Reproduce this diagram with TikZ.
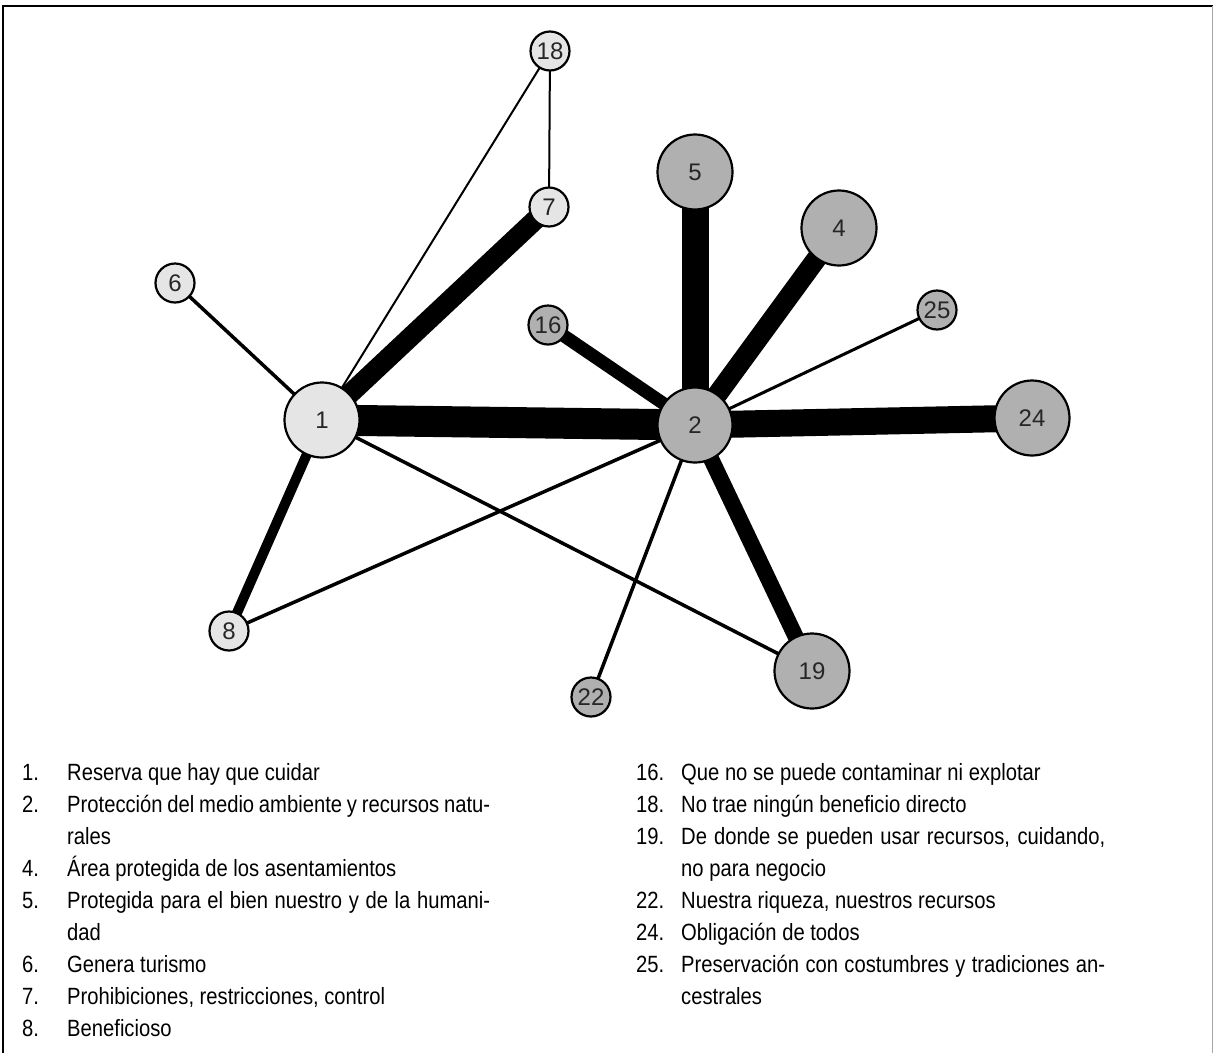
\documentclass[tikz,border=0pt]{standalone}
\usepackage{fontspec}
\setmainfont{Liberation Sans}
\newfontfamily\legendfont{Liberation Sans}[FakeStretch=0.86]
\usetikzlibrary{backgrounds, positioning}

\tikzset{
    concept/.style={circle, draw, line width=2.2pt, inner sep=0pt,
        text=black!85, font=\fontsize{24}{24}\selectfont},
    big/.style={minimum size=75pt},
    small/.style={minimum size=39pt},
    light/.style={fill=black!10},
    dark/.style={fill=black!31},
    tie/.style={line width=#1pt},
    item/.style={anchor=base west, inner sep=0pt,
        font=\legendfont\fontsize{23.5}{32}\selectfont},
}

\begin{document}
\begin{tikzpicture}[x=1pt, y=-1pt]
    \useasboundingbox (0,0) rectangle (1216,1053);

    % frame
    \draw[line width=1.5pt] (3,1053) -- (3,6) -- (1213,6);
    \draw[black!35] (1212,6) -- (1212,1053);

    % concepts
    \node[concept, big, light] (n1) at (322,420) {1};
    \node[concept, big, dark] (n2) at (695,425) {2};
    \node[concept, big, dark] (n5) at (695,172) {5};
    \node[concept, big, dark] (n4) at (839,228) {4};
    \node[concept, big, dark] (n24) at (1032,418) {24};
    \node[concept, big, dark] (n19) at (812,671) {19};
    \node[concept, small, light] (n18) at (550,51) {18};
    \node[concept, small, light] (n7) at (549,207) {7};
    \node[concept, small, light] (n6) at (175,283) {6};
    \node[concept, small, light] (n8) at (229,631) {8};
    \node[concept, small, dark] (n16) at (548,325) {16};
    \node[concept, small, dark] (n25) at (937,310) {25};
    \node[concept, small, dark] (n22) at (591,697) {22};

    % ties, width = strength
    \begin{scope}[on background layer]
        \draw[tie=31] (n1.center) -- (n2.center);
        \draw[tie=27] (n2.center) -- (n24.center);
        \draw[tie=27] (n2.center) -- (n5.center);
        \draw[tie=20] (n1.center) -- (n7.center);
        \draw[tie=20] (n2.center) -- (n4.center);
        \draw[tie=16] (n2.center) -- (n19.center);
        \draw[tie=13] (n2.center) -- (n16.center);
        \draw[tie=10] (n1.center) -- (n8.center);
        \draw[tie=3.5] (n1.center) -- (n6.center);
        \draw[tie=3.5] (n1.center) -- (n19.center);
        \draw[tie=3.5] (n2.center) -- (n8.center);
        \draw[tie=3.5] (n2.center) -- (n22.center);
        \draw[tie=3] (n2.center) -- (n25.center);
        \draw[tie=2] (n1.center) -- (n18.center);
        \draw[tie=2] (n18.center) -- (n7.center);
    \end{scope}

    % legend, left column
    \foreach \num/\row in {1./0, 2./1, 4./3, 5./4, 6./6, 7./7, 8./8}
        \node[item] (numl\row) at (22,780+32*\row) {\num};
    \foreach \txt/\row in {
        {Reserva que hay que cuidar}/0,
        {\makebox[423pt][s]{Protección del medio ambiente y recursos natu-}}/1,
        {rales}/2,
        {Área protegida de los asentamientos}/3,
        {\makebox[423pt][s]{Protegida para el bien nuestro y de la humani-}}/4,
        {dad}/5,
        {Genera turismo}/6,
        {Prohibiciones, restricciones, control}/7,
        {Beneficioso}/8}
        \node[item] (txtl\row) at (67,780+32*\row) {\txt};

    % legend, right column
    \foreach \num/\row in {16./0, 18./1, 19./2, 22./4, 24./5, 25./6}
        \node[item] (numr\row) at (636,780+32*\row) {\num};
    \foreach \txt/\row in {
        {Que no se puede contaminar ni explotar}/0,
        {No trae ningún beneficio directo}/1,
        {\makebox[424pt][s]{De donde se pueden usar recursos, cuidando,}}/2,
        {no para negocio}/3,
        {Nuestra riqueza, nuestros recursos}/4,
        {Obligación de todos}/5,
        {\makebox[424pt][s]{Preservación con costumbres y tradiciones an-}}/6,
        {cestrales}/7}
        \node[item] (txtr\row) at (681,780+32*\row) {\txt};
\end{tikzpicture}
\end{document}
